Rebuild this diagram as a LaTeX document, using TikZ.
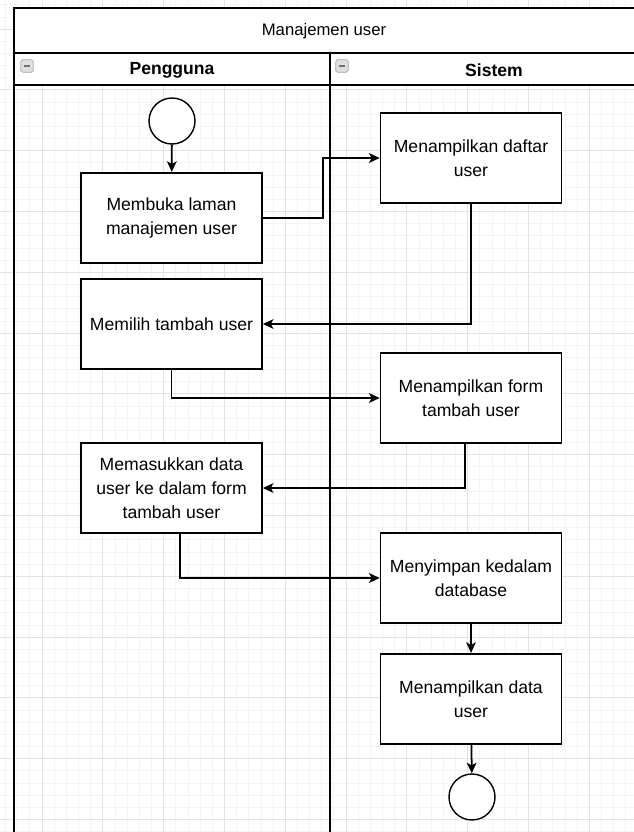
\documentclass[tikz,border=0pt]{standalone}
\usepackage{fontspec}
\setmainfont{Liberation Sans}
\usetikzlibrary{arrows.meta}

\begin{document}
\begin{tikzpicture}[x=0.02cm, y=-0.02cm,
	act/.style={shape=rectangle, draw=black, line width=1pt, fill=white, minimum width=3.62cm, minimum height=1.81cm, align=center, font=\fontsize{10}{13.5}\selectfont},
	state/.style={shape=circle, draw=black, line width=0.8pt, fill=white, minimum size=0.92cm, inner sep=0pt},
	flow/.style={line width=1pt, -{Stealth[length=6pt, width=5.5pt, inset=1.5pt]}},
	lane/.style={draw=black, line width=1pt},
	toggle/.style={shape=rectangle, draw=gray!70, fill=gray!25, rounded corners=1pt, minimum size=0.25cm, inner sep=0pt},
	gridminor/.style={draw=gray!9, line width=0.4pt},
	gridmajor/.style={draw=gray!22, line width=0.5pt}]
	
	\useasboundingbox (0, 0) rectangle (634, 832);
	\clip (0, 0) rectangle (634, 832);
	
	% background grid
	\fill[white] (0, 0) rectangle (634, 832);
	\foreach \k in {0,...,52} \draw[gridminor] ({5.5+12.16*\k}, 0) -- ++(0, 832);
	\foreach \k in {0,...,68} \draw[gridminor] (0, {4.7+12.16*\k}) -- ++(634, 0);
	\foreach \k in {0,...,10} \draw[gridmajor] ({42+60.8*\k}, 0) -- ++(0, 832);
	\foreach \k in {0,...,13} \draw[gridmajor] (0, {29+60.8*\k}) -- ++(634, 0);
	
	% pool and lanes
	\fill[white] (14, 8) rectangle (660, 85);
	\draw[lane] (14, 8) rectangle (660, 860);
	\draw[lane] (14, 53) -- (660, 53);
	\draw[lane] (14, 85) -- (660, 85);
	\draw[lane] (330, 53) -- (330, 860);
	
	\node[font=\fontsize{9.5}{12}\selectfont] (judul) at (324, 31) {Manajemen user};
	\node[font=\bfseries\fontsize{10}{12}\selectfont] (pengguna) at (172, 70) {Pengguna};
	\node[font=\bfseries\fontsize{10}{12}\selectfont] (sistem) at (494, 70) {Sistem};
	\node[toggle] (tgpengguna) at (27, 66) {\textcolor{gray!90!black}{\rule{0.13cm}{0.7pt}}};
	\node[toggle] (tgsistem) at (342, 66) {\textcolor{gray!90!black}{\rule{0.13cm}{0.7pt}}};
	
	% activities
	\node[state] (mulai) at (172, 121) {};
	\node[act] (buka) at (171.5, 218) {Membuka laman\\manajemen user};
	\node[act] (daftar) at (471, 158) {Menampilkan daftar\\user};
	\node[act] (pilih) at (171.5, 324) {Memilih tambah user};
	\node[act] (form) at (471, 398) {Menampilkan form\\tambah user};
	\node[act] (masuk) at (171.5, 488) {Memasukkan data\\user ke dalam form\\tambah user};
	\node[act] (simpan) at (471, 578) {Menyimpan kedalam\\database};
	\node[act] (tampil) at (471, 699) {Menampilkan data\\user};
	\node[state] (akhir) at (472, 797) {};
	
	\draw[flow] (mulai) -- (buka);
	\draw[flow] (buka.east) -- ++(60, 0) |- (daftar.west);
	\draw[flow] (daftar.south) |- (pilih.east);
	\draw[flow] (pilih.south) |- (form.west);
	\draw[flow] (form.south) ++(-6, 0) |- (masuk.east);
	\draw[flow] (masuk.south) ++(8.5, 0) |- (simpan.west);
	\draw[flow] (simpan) -- (tampil);
	\draw[flow] (tampil) -- (akhir);
	
\end{tikzpicture}
\end{document}
